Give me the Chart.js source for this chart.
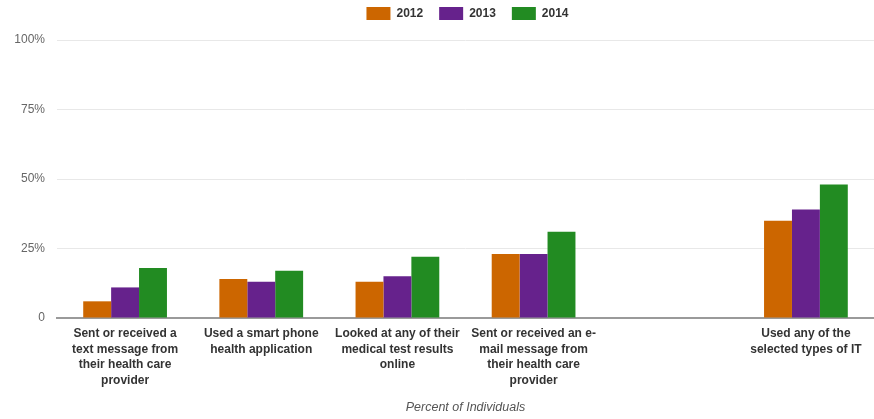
<!DOCTYPE html>
<html>
<head>
<meta charset="utf-8">
<script src="https://cdn.jsdelivr.net/npm/chart.js@4/dist/chart.umd.min.js"></script>
<style>
  html, body { margin: 0; padding: 0; background: #fff; }
  #wrap { width: 874px; height: 419px; position: relative; }
</style>
</head>
<body>
<div id="wrap"><canvas id="chart"></canvas></div>
<script>
"use strict";

// Categories (the blank slot is a real gap in the original chart)
const CATEGORIES = [
  ["Sent or received a", "text message from", "their health care", "provider"],
  ["Used a smart phone", "health application"],
  ["Looked at any of their", "medical test results", "online"],
  ["Sent or received an e-", "mail message from", "their health care", "provider"],
  "",
  ["Used any of the", "selected types of IT"],
];
const YEARS = ["2012", "2013", "2014"];
const COLORS = ["#cc6600", "#66228c", "#228b22"];
const VALUES_2012 = [6, 14, 13, 23, null, 35];
const VALUES_2013 = [11, 13, 15, 23, null, 39];
const VALUES_2014 = [18, 17, 22, 31, null, 48];
const Y_TICKS = [0, 25, 50, 75, 100];

const FONT = "'Liberation Sans', Arial, sans-serif";

const datasets = [VALUES_2012, VALUES_2013, VALUES_2014].map((data, i) => ({
  label: YEARS[i],
  data,
  backgroundColor: COLORS[i],
  borderWidth: 0,
  barPercentage: 1,
  categoryPercentage: 0.615,
}));

// Legend is centred over the plot area, and sits a little higher than default.
const legendShift = {
  id: "legendShift",
  afterLayout(chart) {
    const lg = chart.legend;
    const area = chart.chartArea;
    lg.left = area.left + 2;
    lg.right = area.right + 2;
    lg.width = area.right - area.left;
    lg.top -= 10;
    lg.bottom -= 10;
  },
};

new Chart(document.getElementById("chart"), {
  type: "bar",
  data: { labels: CATEGORIES, datasets },
  plugins: [legendShift],
  options: {
    responsive: true,
    maintainAspectRatio: false,
    animation: false,
    layout: { padding: { top: 1, right: 0, bottom: 0, left: 0 } },
    scales: {
      x: {
        grid: { display: false, drawTicks: false },
        border: { color: "#9a9a9a", width: 2 },
        ticks: {
          color: "#333",
          font: { family: FONT, size: 12, weight: "bold", lineHeight: 1.3 },
          padding: 8,
          maxRotation: 0,
          autoSkip: false,
        },
        title: {
          display: true,
          text: "Percent of Individuals",
          color: "#555",
          font: { family: FONT, size: 12.5, style: "italic" },
        },
        afterFit: (s) => { s.height = 101; },
      },
      y: {
        min: 0,
        max: 100,
        afterBuildTicks: (s) => { s.ticks = Y_TICKS.map((v) => ({ value: v })); },
        grid: { color: "#e8e8e8", drawTicks: false },
        border: { display: false },
        ticks: {
          color: "#666",
          font: { family: FONT, size: 12 },
          padding: 12,
          callback: (v) => (v === 0 ? "0" : v + "%"),
        },
        afterFit: (s) => { s.width = 57; },
      },
    },
    plugins: {
      legend: {
        position: "top",
        labels: {
          boxWidth: 24,
          boxHeight: 13,
          padding: 16,
          color: "#333",
          font: { family: FONT, size: 12, weight: "bold" },
        },
      },
      tooltip: { enabled: false },
    },
  },
});
</script>
</body>
</html>
